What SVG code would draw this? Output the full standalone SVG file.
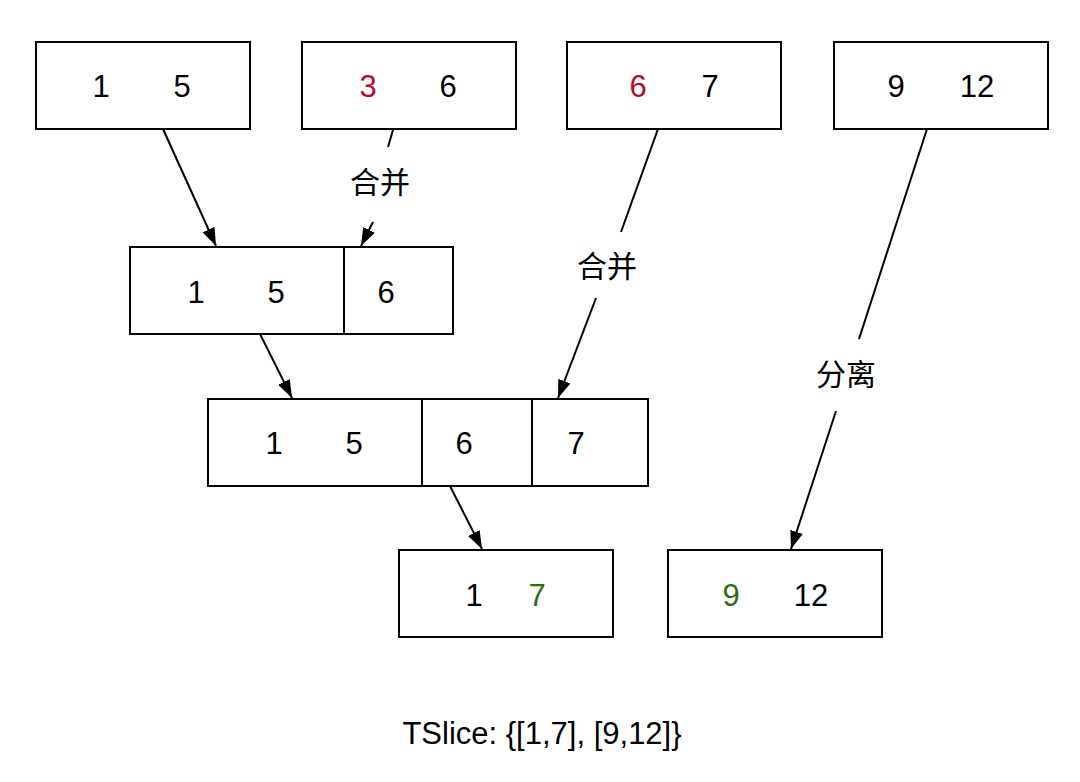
<svg xmlns="http://www.w3.org/2000/svg" width="1080" height="782" viewBox="0 0 1080 782">
<defs>
<style>
.box{fill:#fff;stroke:#000;stroke-width:2}
.t{font-family:"Liberation Sans",Arial,sans-serif;font-size:31px;fill:#000;text-anchor:middle}
.red{fill:#B20C2C}
.green{fill:#2F6B10}
.lbl{font-family:"Liberation Sans","Noto Sans CJK SC",sans-serif;font-size:30px;fill:#000;text-anchor:middle}
.edge{fill:none;stroke:#000;stroke-width:2}
</style>
<marker id="ahb" viewBox="0 0 10 10" refX="10" refY="5" markerWidth="18" markerHeight="13" markerUnits="userSpaceOnUse" orient="auto" preserveAspectRatio="none">
<path d="M0,0 L10,5 L0,10 Z" fill="#000"/>
</marker>
</defs>
<rect width="1080" height="782" fill="#fff"/>
<g id="n1"><rect class="box" x="36" y="42" width="214" height="87"/><text class="t" x="101" y="97">1</text><text class="t" x="182" y="97">5</text></g>
<g id="n2"><rect class="box" x="302" y="42" width="214" height="87"/><text class="t red" x="368" y="97">3</text><text class="t" x="448" y="97">6</text></g>
<g id="n3"><rect class="box" x="567" y="42" width="214" height="87"/><text class="t red" x="638" y="97">6</text><text class="t" x="710" y="97">7</text></g>
<g id="n4"><rect class="box" x="834" y="42" width="214" height="87"/><text class="t" x="896" y="97">9</text><text class="t" x="977" y="97">12</text></g>
<g id="m1"><rect class="box" x="130" y="247" width="214" height="87"/><rect class="box" x="344" y="247" width="109" height="87"/><text class="t" x="196" y="303">1</text><text class="t" x="276" y="303">5</text><text class="t" x="386" y="303">6</text></g>
<g id="r1"><rect class="box" x="208" y="399" width="214" height="87"/><rect class="box" x="422" y="399" width="110" height="87"/><rect class="box" x="532" y="399" width="116" height="87"/><text class="t" x="274" y="454">1</text><text class="t" x="354" y="454">5</text><text class="t" x="464" y="454">6</text><text class="t" x="576" y="454">7</text></g>
<g id="b1"><rect class="box" x="399" y="550" width="214" height="87"/><text class="t" x="474" y="606">1</text><text class="t green" x="537" y="606">7</text></g>
<g id="b2"><rect class="box" x="668" y="550" width="214" height="87"/><text class="t green" x="731" y="606">9</text><text class="t" x="811" y="606">12</text></g>
<g id="connectors">
<line class="edge" x1="163" y1="129" x2="216" y2="246" marker-end="url(#ahb)"/>
<line class="edge" x1="393" y1="130" x2="388" y2="147"/>
<line class="edge" x1="373" y1="222" x2="361" y2="246" marker-end="url(#ahb)"/>
<line class="edge" x1="658" y1="129" x2="621" y2="232"/>
<line class="edge" x1="596" y1="298" x2="558" y2="398" marker-end="url(#ahb)"/>
<line class="edge" x1="927" y1="129" x2="859" y2="339"/>
<line class="edge" x1="836" y1="411" x2="791" y2="549" marker-end="url(#ahb)"/>
<line class="edge" x1="260" y1="334" x2="292" y2="398" marker-end="url(#ahb)"/>
<line class="edge" x1="450" y1="486" x2="482" y2="549" marker-end="url(#ahb)"/>
<text class="lbl" x="380" y="193">合并</text>
<text class="lbl" x="607" y="277">合并</text>
<text class="lbl" x="846" y="385">分离</text>
</g>
<text class="t" x="542" y="744">TSlice: {[1,7], [9,12]}</text>
</svg>
